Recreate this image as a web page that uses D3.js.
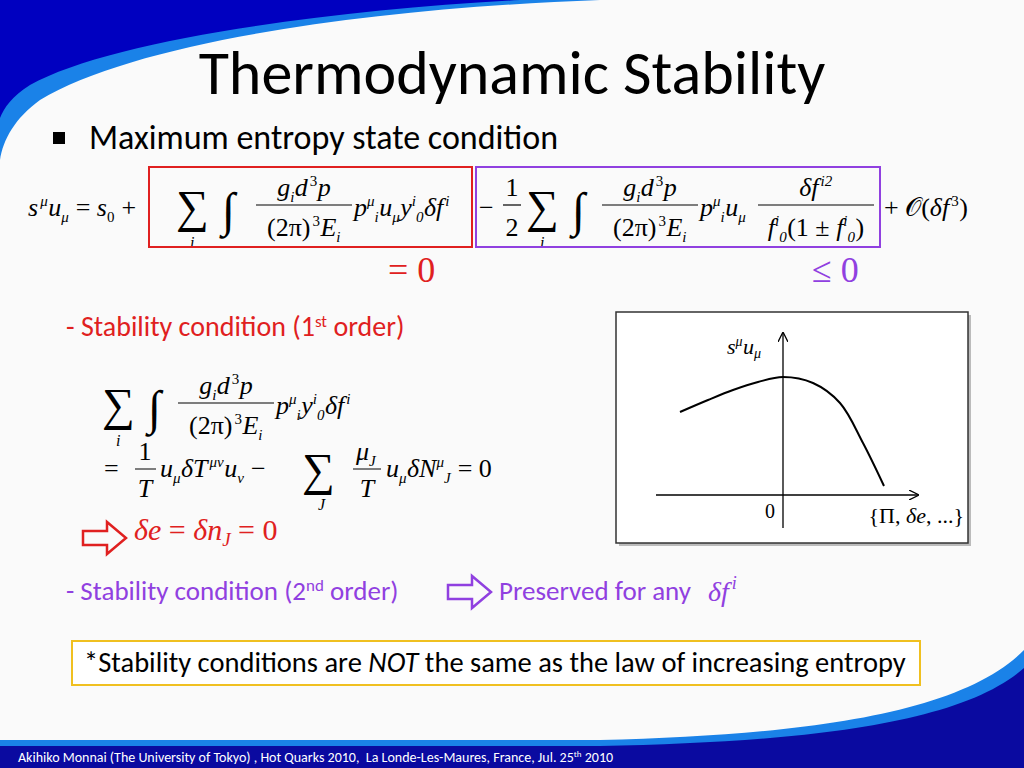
<!DOCTYPE html>
<html>
<head>
<meta charset="utf-8">
<script src="https://cdn.jsdelivr.net/npm/d3@7"></script>
<style>
  body { margin: 0; background: #fafafa; }
  svg text { font-family: "Liberation Serif", "DejaVu Serif", serif; white-space: pre; }
  .sans { font-family: Carlito, "Open Sans", "Noto Sans", sans-serif; }
</style>
</head>
<body>
<svg id="slide" width="1024" height="768"></svg>
<script>
'use strict';

// sketch curve of s^mu u_mu against the deviation
var curveX = [-1.03, -0.75, -0.5, -0.25, 0, 0.3, 0.57, 0.8, 1.01];
var curveY = [0.83, 0.95, 1.05, 1.13, 1.18, 1.12, 0.92, 0.52, 0.09];
var xDomain = [-1.27, 1.35];
var yDomain = [-0.33, 1.62];

var svg = d3.select('#slide');

svg.append('rect').attr('width', 1024).attr('height', 768).attr('fill', '#fafafa');

// top-left swoosh
svg.append('path').attr('fill', '#1a82e8')
    .attr('d', 'M0,0 L600,0 C380,8 140,40 40,100 C15,118 3,140 0,160 Z');
svg.append('path').attr('fill', '#0000c0')
    .attr('d', 'M0,0 L520,0 C330,10 110,40 30,85 C12,96 4,108 0,118 Z');

// bottom band
svg.append('path').attr('fill', '#1a82e8')
    .attr('d', 'M0,740 L600,740 C800,735 960,715 1024,650 L1024,768 L0,768 Z');
svg.append('path').attr('fill', '#0a0aa0')
    .attr('d', 'M0,746 L600,746 C800,742 960,725 1024,668 L1024,768 L0,768 Z');
svg.append('text').attr('class', 'sans').attr('x', 18).attr('y', 762)
    .attr('font-size', 14).attr('fill', '#fff')
    .html('Akihiko Monnai (The University of Tokyo) , Hot Quarks 2010,  La Londe-Les-Maures, France, Jul. 25<tspan dy="-5" font-size="9">th</tspan><tspan dy="5"> 2010</tspan>');

// title
svg.append('text').attr('class', 'sans').attr('x', 512).attr('y', 94)
    .attr('text-anchor', 'middle').attr('font-size', 62).attr('fill', '#000')
    .text('Thermodynamic Stability');

svg.append('rect').attr('x', 53).attr('y', 132).attr('width', 12).attr('height', 12).attr('fill', '#000');
svg.append('text').attr('class', 'sans').attr('x', 89).attr('y', 149)
    .attr('font-size', 34).text('Maximum entropy state condition');

var IT = ' font-style="italic"';
// a tiny space carries the baseline shift back, since an empty tspan does not move it
function back(dy) { return '<tspan dy="' + dy + '" font-size="2"> </tspan>'; }
function sub(t, it) { return '<tspan dy="6" font-size="15"' + (it ? IT : '') + '>' + t + '</tspan>' + back(-6); }
function sup(t, it) { return '<tspan dx="2" dy="-10" font-size="15"' + (it ? IT : '') + '>' + t + '</tspan>' + back(10); }
function v(t) { return '<tspan' + IT + '>' + t + '</tspan>'; }
function supsub(a, b) {
  return '<tspan dy="-10" font-size="15"' + IT + '>' + a + '</tspan><tspan dy="16" font-size="15"' + IT + '>' + b + '</tspan>' + back(-6);
}

// main equation
var eq = svg.append('g').attr('font-size', 26);
eq.append('text').attr('x', 28).attr('y', 216)
    .html(v('s') + sup('μ', true) + v('u') + sub('μ', true) + '<tspan> = </tspan>' + v('s') + sub('0') + '<tspan> +</tspan>');
function sumInt(g, x) {
  g.append('text').attr('x', x).attr('y', 222).attr('font-size', 46).text('∑');
  g.append('text').attr('x', x + 14).attr('y', 248).attr('font-size', 16).attr('font-style', 'italic').text('i');
  g.append('text').attr('x', x + 46).attr('y', 226).attr('font-size', 48).attr('font-style', 'italic').text('∫');
}
function frac(g, x, num, den, w) {
  g.append('text').attr('x', x + w / 2).attr('y', 196).attr('text-anchor', 'middle').html(num);
  g.append('line').attr('x1', x).attr('x2', x + w).attr('y1', 205).attr('y2', 205).attr('stroke', '#000').attr('stroke-width', 1.2);
  g.append('text').attr('x', x + w / 2).attr('y', 236).attr('text-anchor', 'middle').html(den);
}
var gdp = v('g') + sub('i', true) + v('d') + sup('3') + v('p');
var den = '<tspan>(2π)</tspan>' + sup('3') + v('E') + sub('i', true);
sumInt(eq, 176);
frac(eq, 256, gdp, den, 96);
eq.append('text').attr('x', 354).attr('y', 216)
    .html(v('p') + supsub('μ', 'i') + v('u') + sub('μ', true) + v('y') + supsub('i', '0') + v('δf') + sup('i', true));
eq.append('text').attr('x', 479).attr('y', 216).text('−');
frac(eq, 503, '1', '2', 18);
sumInt(eq, 526);
frac(eq, 602, gdp, den, 96);
eq.append('text').attr('x', 700).attr('y', 216)
    .html(v('p') + supsub('μ', 'i') + v('u') + sub('μ', true));
frac(eq, 758, v('δf') + sup('i2', true),
    v('f') + supsub('i', '0') + '<tspan>(1 ± </tspan>' + v('f') + supsub('i', '0') + '<tspan>)</tspan>', 116);
eq.append('text').attr('x', 884).attr('y', 216).html('<tspan>+ </tspan><tspan font-family="DejaVu Sans">𝒪</tspan><tspan>(</tspan>' + v('δf') + sup('3') + '<tspan>)</tspan>');

svg.append('rect').attr('x', 149).attr('y', 167).attr('width', 323).attr('height', 80)
    .attr('fill', 'none').attr('stroke', '#e02020').attr('stroke-width', 2);
svg.append('rect').attr('x', 476).attr('y', 167).attr('width', 404).attr('height', 80)
    .attr('fill', 'none').attr('stroke', '#9040e0').attr('stroke-width', 2);
svg.append('text').attr('x', 388).attr('y', 282).attr('font-size', 36).attr('fill', '#e02020').text('= 0');
svg.append('text').attr('x', 812).attr('y', 282).attr('font-size', 36).attr('fill', '#9040e0').text('≤ 0');

// first order
svg.append('text').attr('class', 'sans').attr('x', 66).attr('y', 336).attr('font-size', 28).attr('fill', '#e02020')
    .html('- Stability condition (1<tspan dy="-9" font-size="17">st</tspan><tspan dy="9"> order)</tspan>');
var e1 = svg.append('g').attr('font-size', 26).attr('transform', 'translate(-76,198)');
sumInt(e1, 178);
frac(e1, 254, gdp, den, 96);
e1.append('text').attr('x', 352).attr('y', 216)
    .html(v('p') + supsub('μ', 'i') + v('y') + supsub('i', '0') + v('δf') + sup('i', true));
var e2 = svg.append('g').attr('font-size', 26).attr('transform', 'translate(0,277)');
e2.append('text').attr('x', 104).attr('y', 200).text('=');
e2.append('text').attr('x', 145).attr('y', 183).attr('text-anchor', 'middle').text('1');
e2.append('line').attr('x1', 135).attr('x2', 156).attr('y1', 192).attr('y2', 192).attr('stroke', '#000');
e2.append('text').attr('x', 145).attr('y', 220).attr('text-anchor', 'middle').attr('font-style', 'italic').text('T');
e2.append('text').attr('x', 160).attr('y', 200)
    .html(v('u') + sub('μ', true) + v('δT') + sup('μν', true) + v('u') + sub('ν', true) + '<tspan> −</tspan>');
e2.append('text').attr('x', 302).attr('y', 208).attr('font-size', 46).text('∑');
e2.append('text').attr('x', 318).attr('y', 233).attr('font-size', 16).attr('font-style', 'italic').text('J');
e2.append('text').attr('x', 366).attr('y', 183).attr('text-anchor', 'middle').html(v('μ') + sub('J', true));
e2.append('line').attr('x1', 353).attr('x2', 381).attr('y1', 192).attr('y2', 192).attr('stroke', '#000');
e2.append('text').attr('x', 367).attr('y', 220).attr('text-anchor', 'middle').attr('font-style', 'italic').text('T');
e2.append('text').attr('x', 386).attr('y', 200)
    .html(v('u') + sub('μ', true) + v('δN') + supsub('μ', 'J') + '<tspan> = 0</tspan>');

function arrow(x, y, color) {
  svg.append('path').attr('fill', 'none').attr('stroke', color).attr('stroke-width', 2.5)
      .attr('d', 'M' + x + ',' + (y - 7) + 'h24v-9l19,16l-19,16v-9h-24z');
}
arrow(83, 538, '#e02020');
svg.append('text').attr('x', 134).attr('y', 540).attr('font-size', 30).attr('fill', '#e02020')
    .html(v('δe') + '<tspan> = </tspan>' + v('δn') + '<tspan dy="6" font-size="19"' + IT + '>J</tspan><tspan dy="-6"> = 0</tspan>');

// second order
svg.append('text').attr('class', 'sans').attr('x', 66).attr('y', 600).attr('font-size', 27).attr('fill', '#9040e0')
    .html('- Stability condition (2<tspan dy="-9" font-size="17">nd</tspan><tspan dy="9"> order)</tspan>');
arrow(448, 592, '#9040e0');
svg.append('text').attr('class', 'sans').attr('x', 499).attr('y', 600).attr('font-size', 27).attr('fill', '#9040e0')
    .text('Preserved for any');
svg.append('text').attr('x', 708).attr('y', 601).attr('font-size', 28).attr('fill', '#9040e0')
    .html(v('δf') + '<tspan dx="3" dy="-12" font-size="18"' + IT + '>i</tspan>');

// note box
svg.append('rect').attr('x', 72).attr('y', 641).attr('width', 848).attr('height', 44)
    .attr('fill', '#fff').attr('stroke', '#f0c020').attr('stroke-width', 2);
svg.append('text').attr('class', 'sans').attr('x', 84).attr('y', 672).attr('font-size', 28.5)
    .html('*Stability conditions are <tspan font-style="italic">NOT</tspan> the same as the law of increasing entropy');

// inset chart
svg.append('rect').attr('x', 619).attr('y', 315).attr('width', 352).attr('height', 231).attr('fill', '#bbb');
svg.append('rect').attr('x', 616).attr('y', 312).attr('width', 352).attr('height', 231)
    .attr('fill', '#fff').attr('stroke', '#333').attr('stroke-width', 1.5);

var x = d3.scaleLinear().domain(xDomain).range([656, 918]);
var y = d3.scaleLinear().domain(yDomain).range([528, 333]);

var defs = svg.append('defs');
defs.append('marker').attr('id', 'ah').attr('viewBox', '0 0 10 10').attr('refX', 9).attr('refY', 5)
    .attr('markerWidth', 10).attr('markerHeight', 10).attr('markerUnits', 'userSpaceOnUse').attr('orient', 'auto')
    .append('path').attr('d', 'M0,0 L10,5 L0,10').attr('fill', 'none').attr('stroke', '#000').attr('stroke-width', 1.3);

var inset = svg.append('g');
inset.append('line').attr('x1', x(xDomain[0])).attr('x2', x(xDomain[1])).attr('y1', y(0)).attr('y2', y(0))
    .attr('stroke', '#000').attr('stroke-width', 1.3).attr('marker-end', 'url(#ah)');
inset.append('line').attr('x1', x(0)).attr('x2', x(0)).attr('y1', y(yDomain[0])).attr('y2', y(yDomain[1]))
    .attr('stroke', '#000').attr('stroke-width', 1.3).attr('marker-end', 'url(#ah)');

var line = d3.line().x(function(d) { return x(d[0]); }).y(function(d) { return y(d[1]); })
    .curve(d3.curveCatmullRom);
inset.append('path').datum(d3.zip(curveX, curveY)).attr('d', line)
    .attr('fill', 'none').attr('stroke', '#000').attr('stroke-width', 2);

inset.append('text').attr('x', x(0) - 8).attr('y', y(0) + 23).attr('text-anchor', 'end').attr('font-size', 20).text('0');
inset.append('text').attr('x', 964).attr('y', y(0) + 28).attr('text-anchor', 'end').attr('font-size', 22)
    .html('<tspan>{Π, </tspan>' + v('δe') + '<tspan>, ...}</tspan>');
inset.append('text').attr('x', x(0) - 56).attr('y', 354).attr('font-size', 22)
    .html(v('s') + '<tspan dy="-8" font-size="14"' + IT + '>μ</tspan>' + back(8) + v('u') + '<tspan dy="4" font-size="14"' + IT + '>μ</tspan>');
</script>
</body>
</html>
